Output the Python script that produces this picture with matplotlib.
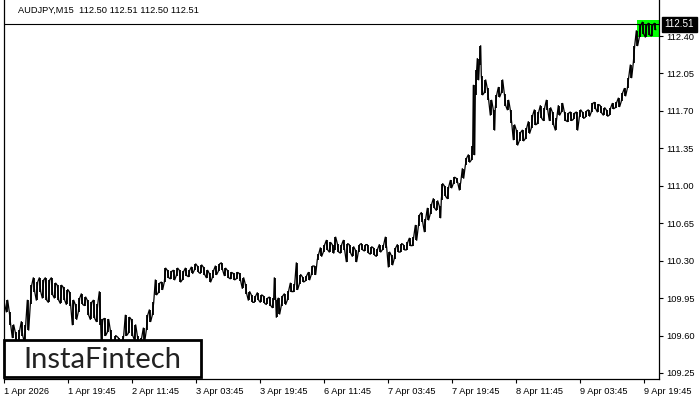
import matplotlib.pyplot as plt
from matplotlib.patches import Rectangle
import numpy as np

symbol = 'AUDJPY,M15  112.50 112.51 112.50 112.51'
last_price = 112.51

# bar index (M15 bars from 1 Apr 2026), bar high, bar low
bars = [0, 3, 6, 9, 12, 15, 18, 21, 24, 27, 30, 33, 36, 39, 42, 45, 48, 51, 54, 57,
        60, 63, 66, 69, 72, 75, 78, 81, 84, 87, 90, 93, 96, 98, 101, 104, 107, 111, 115, 119,
        122, 125, 128, 131, 134, 137, 140, 143, 146, 149, 152, 155, 158, 161, 164, 167, 170, 173, 176, 179,
        182, 185, 188, 191, 194, 197, 200, 203, 206, 209, 212, 215, 218, 221, 224, 227, 230, 233, 236, 239,
        242, 245, 248, 251, 254, 257, 260, 263, 266, 269, 271, 273, 275, 278, 281, 284, 287, 290, 293, 296,
        299, 302, 305, 308, 311, 314, 317, 320, 323, 326, 329, 331, 334, 337, 340, 343, 346, 349, 352, 355,
        358, 361, 364, 367, 370, 373, 376, 379, 382, 385, 388, 391, 394, 397, 400, 403, 406, 409, 412, 415,
        418, 421, 424, 427, 430, 433, 436, 438, 441, 444, 447, 450, 453, 456, 459, 462, 465, 468, 470, 472,
        474, 476, 478, 481, 484, 487, 490, 492, 495, 498, 501, 504, 507, 510, 513, 516, 519, 522, 525, 528,
        531, 534, 537, 540, 543, 546, 549, 552, 555, 558, 561, 564, 567, 570, 573, 576, 579, 582, 585, 588,
        591, 594, 597, 600, 603, 606, 609, 612, 615, 618, 621, 624, 627, 630, 633, 636, 639, 642, 645, 648,
        651]
highs = [109.97, 109.93, 109.82, 109.70, 109.63, 109.65, 109.73, 109.70, 109.93, 110.07,
         110.14, 110.10, 110.14, 110.12, 110.14, 110.12, 110.14, 110.09, 110.07, 110.07,
         110.05, 110.03, 110.01, 109.93, 109.89, 109.95, 109.99, 109.96, 109.93, 109.91,
         109.93, 109.89, 110.01, 109.75, 109.76, 109.75, 109.65, 109.60, 109.58, 109.60,
         109.79, 109.77, 109.75, 109.70, 109.60, 109.58, 109.67, 109.79, 109.84, 109.91,
         110.12, 110.09, 110.10, 110.23, 110.21, 110.20, 110.21, 110.23, 110.21, 110.20,
         110.23, 110.21, 110.24, 110.27, 110.25, 110.26, 110.24, 110.21, 110.18, 110.21,
         110.25, 110.27, 110.28, 110.23, 110.21, 110.19, 110.18, 110.19, 110.18, 110.14,
         110.08, 110.01, 109.98, 109.97, 110.00, 109.98, 109.97, 109.95, 109.96, 109.95,
         110.14, 109.93, 109.95, 109.97, 109.99, 110.02, 110.09, 110.08, 110.28, 110.17,
         110.15, 110.16, 110.19, 110.25, 110.25, 110.36, 110.42, 110.45, 110.49, 110.47,
         110.45, 110.52, 110.46, 110.45, 110.49, 110.46, 110.45, 110.43, 110.40, 110.45,
         110.46, 110.45, 110.45, 110.43, 110.42, 110.41, 110.45, 110.45, 110.52, 110.38,
         110.35, 110.42, 110.45, 110.46, 110.45, 110.47, 110.51, 110.52, 110.63, 110.73,
         110.75, 110.69, 110.79, 110.83, 110.88, 110.86, 110.81, 111.02, 111.00, 110.99,
         111.05, 111.08, 111.07, 111.03, 111.16, 111.26, 111.29, 111.37, 111.94, 112.08,
         112.19, 112.31, 112.03, 111.99, 111.91, 111.80, 111.71, 111.85, 111.92, 111.99,
         111.86, 111.80, 111.71, 111.57, 111.52, 111.50, 111.52, 111.54, 111.60, 111.66,
         111.71, 111.69, 111.75, 111.73, 111.80, 111.73, 111.69, 111.63, 111.75, 111.77,
         111.69, 111.68, 111.69, 111.68, 111.69, 111.71, 111.69, 111.70, 111.71, 111.77,
         111.78, 111.76, 111.75, 111.73, 111.71, 111.73, 111.77, 111.78, 111.82, 111.87,
         111.91, 112.01, 112.13, 112.31, 112.45, 112.50, 112.53, 112.50, 112.52, 112.50,
         112.52]
lows = [109.89, 109.82, 109.70, 109.58, 109.51, 109.53, 109.60, 109.54, 109.65, 109.89,
        110.01, 109.93, 110.01, 109.95, 109.93, 109.91, 109.98, 109.95, 109.93, 109.90,
        109.93, 109.89, 109.88, 109.70, 109.75, 109.82, 109.89, 109.88, 109.79, 109.75,
        109.76, 109.73, 109.70, 109.51, 109.60, 109.63, 109.51, 109.46, 109.45, 109.48,
        109.60, 109.62, 109.60, 109.56, 109.48, 109.46, 109.54, 109.65, 109.73, 109.79,
        109.98, 110.00, 110.03, 110.10, 110.14, 110.13, 110.12, 110.16, 110.10, 110.12,
        110.16, 110.15, 110.18, 110.21, 110.19, 110.18, 110.17, 110.14, 110.10, 110.14,
        110.17, 110.20, 110.21, 110.16, 110.14, 110.13, 110.12, 110.13, 110.11, 110.04,
        109.99, 109.93, 109.91, 109.91, 109.93, 109.91, 109.90, 109.89, 109.88, 109.86,
        109.93, 109.77, 109.80, 109.88, 109.89, 109.93, 110.01, 110.01, 110.03, 110.08,
        110.10, 110.11, 110.12, 110.17, 110.17, 110.31, 110.34, 110.38, 110.40, 110.38,
        110.37, 110.40, 110.38, 110.37, 110.40, 110.29, 110.37, 110.34, 110.29, 110.38,
        110.40, 110.39, 110.37, 110.36, 110.35, 110.34, 110.38, 110.40, 110.42, 110.24,
        110.26, 110.32, 110.38, 110.38, 110.40, 110.40, 110.44, 110.44, 110.49, 110.62,
        110.66, 110.57, 110.68, 110.74, 110.79, 110.77, 110.70, 110.87, 110.90, 110.88,
        110.98, 111.02, 111.03, 110.96, 111.07, 111.19, 111.22, 111.24, 111.29, 111.85,
        111.99, 112.13, 111.85, 111.87, 111.80, 111.66, 111.52, 111.73, 111.83, 111.87,
        111.75, 111.71, 111.59, 111.43, 111.38, 111.42, 111.42, 111.44, 111.49, 111.54,
        111.57, 111.58, 111.63, 111.61, 111.71, 111.61, 111.57, 111.52, 111.66, 111.69,
        111.61, 111.60, 111.61, 111.62, 111.52, 111.64, 111.63, 111.64, 111.65, 111.69,
        111.72, 111.69, 111.68, 111.66, 111.65, 111.66, 111.72, 111.73, 111.74, 111.79,
        111.84, 111.91, 112.01, 112.15, 112.31, 112.39, 112.42, 112.39, 112.41, 112.40,
        112.46]

# highlighted zone at the end of the chart
zone_start = 633
zone_low, zone_high = 112.39, 112.55

time_labels = ['1 Apr 2026', '1 Apr 19:45', '2 Apr 11:45', '3 Apr 03:45', '3 Apr 19:45',
               '6 Apr 11:45', '7 Apr 03:45', '7 Apr 19:45', '8 Apr 11:45', '9 Apr 03:45',
               '9 Apr 19:45']
price_ticks = [109.25, 109.60, 109.95, 110.30, 110.65, 111.00, 111.35, 111.70, 112.05, 112.40]

plt.rcParams['font.family'] = ['Liberation Sans', 'DejaVu Sans']
fs = 6.7

fig = plt.figure(figsize=(7, 4), dpi=100)
ax = fig.add_axes([3.5 / 700, 21.5 / 400, 655.5 / 700, 378.5 / 400])

x = np.array(bars, dtype=float)
hi = np.array(highs)
lo = np.array(lows)

# saw-tooth path through each bar's high and low, like dense M15 bars
zx = np.column_stack([x - 0.7, x + 0.7]).ravel()
odd = np.arange(len(x)) % 2 == 1
first = np.where(odd, lo, hi)
second = np.where(odd, hi, lo)
zy = np.column_stack([first, second]).ravel()

ax.add_patch(Rectangle((zone_start, zone_low), 660 - zone_start, zone_high - zone_low,
                       facecolor='#00ff00', edgecolor='none', zorder=1))
ax.vlines(x, lo, hi, color='black', lw=1.3, zorder=3)
ax.plot(zx, zy, color='black', lw=0.9, zorder=3)
ax.axhline(last_price, color='black', lw=0.8, zorder=2)

ax.set_xlim(-0.5, 655)
ax.set_ylim(109.198, 112.737)

ax.set_xticks(np.arange(len(time_labels)) * 64)
ax.set_xticklabels(time_labels, ha='left', fontsize=fs)
ax.set_yticks(price_ticks)
ax.set_yticklabels(['%.2f' % v for v in price_ticks], fontsize=fs)
ax.yaxis.tick_right()
ax.tick_params(axis='both', length=3, width=0.8, color='black', pad=2)
ax.tick_params(axis='x', pad=3)
ax.spines['top'].set_visible(False)
for s in ['left', 'right', 'bottom']:
    ax.spines[s].set_linewidth(0.9)

ax.text(14.5 / 655.5, 1 - 10 / 378.5, symbol, transform=ax.transAxes,
        fontsize=fs, va='center', ha='left')

# current price label on the axis
ax.annotate('%.2f' % last_price, xy=(1, last_price), xycoords=('axes fraction', 'data'),
            xytext=(4, 0), textcoords='offset points', fontsize=fs + 0.4, color='white',
            va='center', ha='left', annotation_clip=False,
            bbox=dict(boxstyle='square,pad=0.25', facecolor='black', edgecolor='black'))

# logo
fig.add_artist(Rectangle((4 / 700, 23 / 400), 197 / 700, 37 / 400, transform=fig.transFigure,
                         facecolor='white', edgecolor='black', lw=2, zorder=10))
fig.text(102 / 700, (400 - 360) / 400, 'InstaFintech', fontsize=21, family='Lato',
         color='#222222', ha='center', va='center', zorder=11)

fig.savefig('out.png', dpi=100)
